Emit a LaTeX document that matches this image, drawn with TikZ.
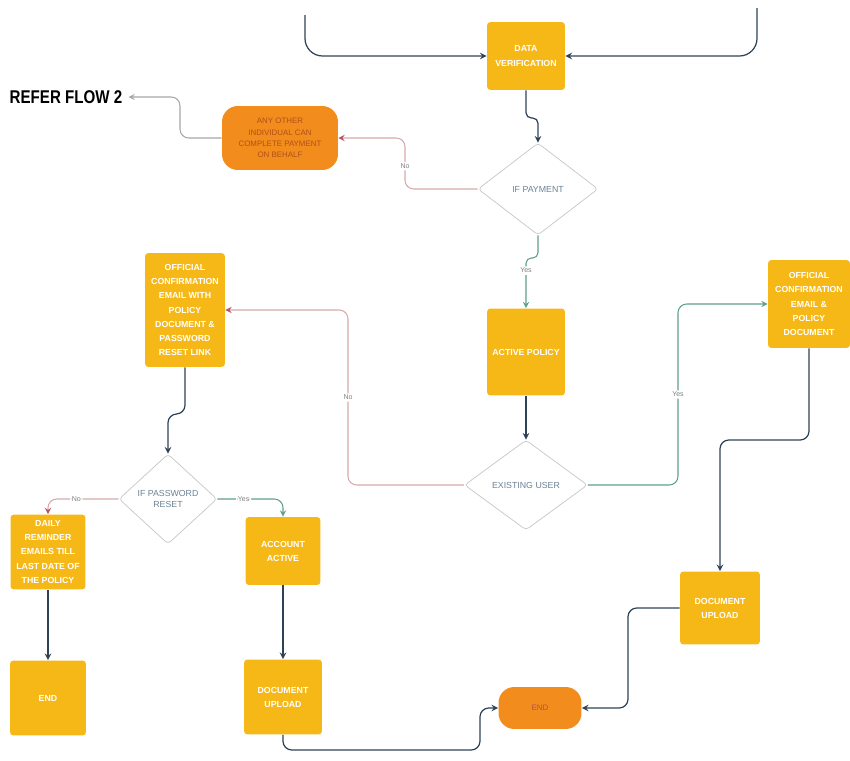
\documentclass[tikz,border=0pt]{standalone}
\usepackage{fontspec}
\setmainfont{Liberation Sans}
\usetikzlibrary{shapes.geometric}
\definecolor{boxyellow}{HTML}{F6B817}
\definecolor{pillorange}{HTML}{F28C1C}
\definecolor{pilltext}{HTML}{B0501A}
\definecolor{flowdark}{HTML}{2E4257}
\definecolor{noline}{HTML}{D6A9AA}
\definecolor{nohead}{HTML}{B8505E}
\definecolor{yesline}{HTML}{5E9E8E}
\definecolor{asktext}{HTML}{6E8294}
\begin{document}
\begin{tikzpicture}[x=0.02cm,y=-0.02cm,>=stealth,
    box/.style={fill=boxyellow,rounded corners=2pt,text=white,align=center,
      font=\fontsize{5}{8}\selectfont\bfseries,inner sep=1pt},
    pill/.style={fill=pillorange,rounded corners=9pt,text=pilltext,align=center,
      font=\fontsize{4.5}{6.5}\selectfont,inner sep=1pt},
    ask/.style={diamond,draw=gray!45,fill=white,rounded corners=2pt,text=asktext,
      align=center,font=\fontsize{5}{6.5}\selectfont,inner sep=0pt},
    flow/.style={draw=flowdark,line width=0.7pt,rounded corners=5pt,->},
    nopath/.style={draw=noline,line width=0.6pt,rounded corners=5pt,
      -{stealth[nohead]}},
    yespath/.style={draw=yesline,line width=0.6pt,rounded corners=5pt,->},
    tag/.style={fill=white,text=gray,font=\fontsize{4}{5}\selectfont,inner sep=1pt}]
  \useasboundingbox (0,0) rectangle (850,761);

  % top of flow
  \node[box,minimum width=1.56cm,minimum height=1.36cm] (verif) at (526,56) {DATA\\VERIFICATION};
  \coordinate (fromleft) at (305,15);
  \coordinate (fromright) at (757,8);
  \draw[flow,rounded corners=10pt] (fromleft) |- (verif.west);
  \draw[flow,rounded corners=10pt] (fromright) |- (verif.east);

  \node[ask,minimum width=2.4cm,minimum height=1.84cm] (payq) at (538,189) {IF PAYMENT};
  \draw[flow,rounded corners=3pt] (verif.south) -- (526,118) -- (538,118) -- (payq.north);

  \node[pill,minimum width=2.32cm,minimum height=1.28cm] (insurer) at (280,138)
    {ANY OTHER\\INDIVIDUAL CAN\\COMPLETE PAYMENT\\ON BEHALF};
  \node[font=\fontsize{10.5}{12}\selectfont\bfseries] (refer) at (66,97) {\scalebox{0.82}[1]{REFER FLOW 2}};
  \draw[nopath] (payq.west) -- (405,189) -- (405,138) node[tag,pos=0.45] {No} -- (insurer.east);
  \draw[draw=gray!70,line width=0.6pt,rounded corners=5pt,->] (insurer.west) -- (180,138) |- (refer.east);

  % active policy and existing user
  \node[box,minimum width=1.56cm,minimum height=1.74cm] (active) at (526,352) {ACTIVE POLICY};
  \draw[yespath,rounded corners=3pt] (payq.south) -- (538,258) -- (526,258)
    -- (active.north) node[tag,pos=0.25] {Yes};

  \node[ask,minimum width=2.46cm,minimum height=1.8cm] (userq) at (526,485) {EXISTING USER};
  \draw[flow] (active.south) -- (userq.north);

  \node[box,minimum width=1.6cm,minimum height=2.28cm] (offpw) at (185,310)
    {OFFICIAL\\CONFIRMATION\\EMAIL WITH\\POLICY\\DOCUMENT \&\\PASSWORD\\RESET LINK};
  \node[box,minimum width=1.64cm,minimum height=1.76cm] (offmail) at (809,304)
    {OFFICIAL\\CONFIRMATION\\EMAIL \&\\POLICY\\DOCUMENT};
  \draw[nopath] (userq.west) -| (348,310) node[tag,pos=0.75] {No} -- (offpw.east);
  \draw[yespath] (userq.east) -| (678,304) node[tag,pos=0.75] {Yes} -- (offmail.west);

  % existing user = no
  \node[ask,minimum width=1.96cm,minimum height=1.8cm] (pwq) at (168,499) {IF PASSWORD\\RESET};
  \draw[flow] (offpw.south) -- (185,414) -| (pwq.north);

  \node[box,minimum width=1.5cm,minimum height=1.5cm] (remind) at (48,552)
    {DAILY\\REMINDER\\EMAILS TILL\\LAST DATE OF\\THE POLICY};
  \node[box,minimum width=1.52cm,minimum height=1.5cm] (end1) at (48,698) {END};
  \node[box,minimum width=1.5cm,minimum height=1.36cm] (acct) at (283,551) {ACCOUNT\\ACTIVE};
  \node[box,minimum width=1.56cm,minimum height=1.5cm] (upload1) at (283,697) {DOCUMENT\\UPLOAD};
  \draw[nopath] (pwq.west) -| (remind.north) node[tag,pos=0.3] {No};
  \draw[yespath] (pwq.east) -| (acct.north) node[tag,pos=0.2] {Yes};
  \draw[flow] (remind.south) -- (end1.north);
  \draw[flow] (acct.south) -- (upload1.north);

  % existing user = yes
  \node[box,minimum width=1.6cm,minimum height=1.46cm] (upload2) at (720,608) {DOCUMENT\\UPLOAD};
  \draw[flow] (offmail.south) -- (809,440) -| (upload2.north);

  \node[pill,minimum width=1.66cm,minimum height=0.84cm,text=nohead!80!pilltext] (endpill) at (540,708) {END};
  \draw[flow] (upload1.south) |- (480,750) |- (endpill.west);
  \draw[flow] (upload2.west) -- (628,608) |- (endpill.east);
\end{tikzpicture}
\end{document}
